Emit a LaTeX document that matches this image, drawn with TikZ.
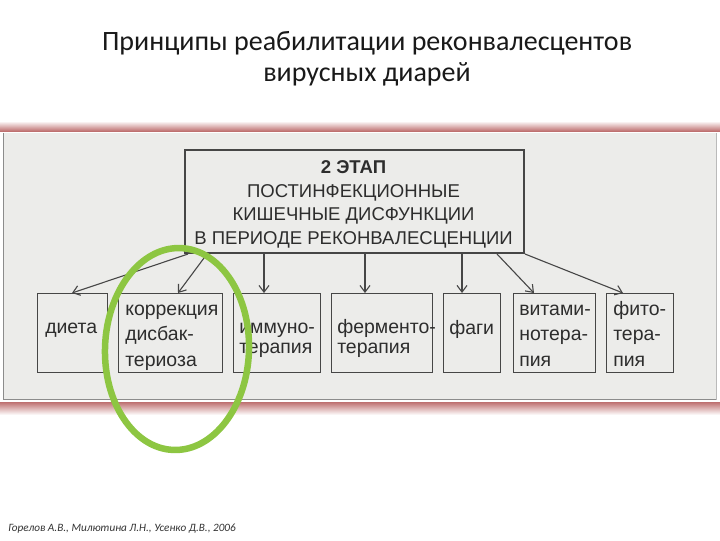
\documentclass[tikz,border=0pt]{standalone}
\usepackage{fontspec}
\setmainfont{Carlito}
\newfontfamily\arialf{Liberation Sans}
\usetikzlibrary{arrows.meta,calc}
\newdimen\pxu \pxu=0.75pt
\definecolor{framered}{RGB}{190,112,112}
\definecolor{contentgray}{RGB}{236,236,234}
\definecolor{edgegray}{RGB}{140,140,140}
\definecolor{boxgray}{RGB}{70,70,70}
\definecolor{txtgray}{RGB}{45,45,45}
\definecolor{ringgreen}{RGB}{141,198,66}
\tikzset{
  titletxt/.style={font=\fontsize{21}{25}\selectfont, text=black!90, inner sep=0pt, anchor=base},
  stagebox/.style={draw=boxgray, line width=2\pxu, inner sep=0pt, anchor=north west},
  itembox/.style={draw=boxgray, line width=1.3\pxu, inner sep=0pt, anchor=north west, minimum height=79\pxu},
  stagetxt/.style={font=\arialf\fontsize{13.9}{17.6}\selectfont, text=txtgray, inner sep=0pt, anchor=base, align=center},
  lblthree/.style={font=\arialf\fontsize{14.6}{19.1}\selectfont, text=txtgray, inner sep=0pt, anchor=base west, align=left},
  lbltwo/.style={font=\arialf\fontsize{14.6}{14.6}\selectfont, text=txtgray, inner sep=0pt, anchor=base west, align=left},
  arr/.style={draw=boxgray, line width=1.1\pxu, -{Straight Barb[length=5pt,width=7.5pt]}},
  foot/.style={font=\itshape\fontsize{8.4}{10}\selectfont, text=black!80, inner sep=0pt, anchor=base west}
}
\begin{document}
\begin{tikzpicture}[x=0.75pt,y=-0.75pt]
\useasboundingbox (0,0) rectangle (720,540);
\fill[white] (0,0) rectangle (720,540);
% title
\node[titletxt] (title1) at (367,50) {Принципы реабилитации реконвалесцентов};
\node[titletxt] (title2) at (367,81) {вирусных диарей};
% frame
\shade[top color=white, bottom color=framered] (0,121) rectangle (720,131);
\shade[top color=framered, bottom color=white] (0,402) rectangle (720,415);
\fill[contentgray] (3,133) rectangle (717,400);
\draw[edgegray, line width=1.5\pxu] (3.5,133) -- (3.5,399.5) -- (717,399.5);
\draw[edgegray!60, line width=1\pxu] (716.5,133) -- (716.5,399.5);
% stage box
\node[stagebox, minimum width=339\pxu, minimum height=103\pxu] (stage) at (184,149) {};
\node[stagetxt] (stagetext) at (353.5,244) {\textbf{2 ЭТАП}\\ПОСТИНФЕКЦИОННЫЕ\\КИШЕЧНЫЕ ДИСФУНКЦИИ\\В ПЕРИОДЕ РЕКОНВАЛЕСЦЕНЦИИ};
% item boxes
\node[itembox, minimum width=70\pxu] (diet) at (37,293) {};
\node[itembox, minimum width=104\pxu] (korr) at (118,293) {};
\node[itembox, minimum width=87\pxu] (immu) at (233,293) {};
\node[itembox, minimum width=101\pxu] (ferm) at (331,293) {};
\node[itembox, minimum width=57\pxu] (fagi) at (443,293) {};
\node[itembox, minimum width=82\pxu] (vita) at (513,293) {};
\node[itembox, minimum width=67\pxu] (fito) at (606,293) {};
% labels
\node[lbltwo] (diettxt) at (45,333) {диета};
\node[lblthree] (korrtxt) at (125,366) {коррекция\\дисбак-\\териоза};
\node[lbltwo] (immutxt) at (239,353) {иммуно-\\терапия};
\node[lbltwo] (fermtxt) at (337,353) {ферменто-\\терапия};
\node[lbltwo] (fagitxt) at (449,334) {фаги};
\node[lblthree] (vitatxt) at (519,366) {витами-\\нотера-\\пия};
\node[lblthree] (fitotxt) at (613,366) {фито-\\тера-\\пия};
% connectors
\draw[arr] (188,0 |- stage.south) -- (72,0 |- diet.north);
\draw[arr] (207,0 |- stage.south) -- (178,0 |- korr.north);
\draw[arr] (264,0 |- stage.south) -- (264,0 |- immu.north);
\draw[arr] (365,0 |- stage.south) -- (365,0 |- ferm.north);
\draw[arr] (462,0 |- stage.south) -- (462,0 |- fagi.north);
\draw[arr] (497,0 |- stage.south) -- (534,0 |- vita.north);
\draw[arr] (stage.south east) -- (623,0 |- fito.north);
% highlight ring
\draw[ringgreen, line width=6.5\pxu, rotate around={-2:(177,349)}] (177,349) ellipse (72 and 101);
% footer
\node[foot] (source) at (8,531) {Горелов А.В., Милютина Л.Н., Усенко Д.В., 2006};
\end{tikzpicture}
\end{document}
